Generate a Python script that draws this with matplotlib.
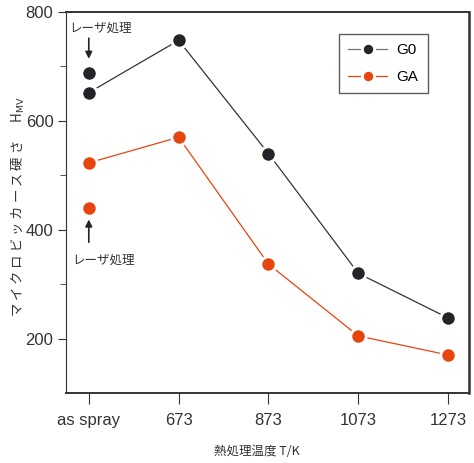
import matplotlib
matplotlib.use("Agg")
import matplotlib.pyplot as plt

plt.rcParams['font.family'] = ['Liberation Sans', 'Noto Sans CJK JP', 'DejaVu Sans']

# data
temps = ['as spray', '673', '873', '1073', '1273']
g0 = [652, 748, 540, 320, 238]
ga = [523, 570, 337, 205, 170]
g0_laser = 688
ga_laser = 440

black = '#222428'
orange = '#e8450e'
grey = '#333333'

fig = plt.figure(figsize=(4.74, 4.63), dpi=100)
ax = fig.add_axes([0.139, 0.151, 0.85, 0.823])

x = list(range(len(temps)))
mk = dict(marker='o', markersize=11, markeredgecolor='white', markeredgewidth=2)
ax.plot(x, g0, color=grey, lw=0.9, markerfacecolor=black, label='G0', **mk)
ax.plot(x, ga, color=orange, lw=0.9, markerfacecolor=orange, label='GA', **mk)
ax.plot(0, g0_laser, ls='none', markerfacecolor=black, **mk)
ax.plot(0, ga_laser, ls='none', markerfacecolor=orange, **mk)

# laser annotations
ax.annotate('', xy=(0, 709), xytext=(0, 757),
            arrowprops=dict(arrowstyle='-|>', color=black, lw=1.2, mutation_scale=10))
ax.text(0.13, 770, 'レーザ処理', ha='center', va='center', fontsize=9,
        family=['Noto Sans CJK JP'], color=grey)
ax.annotate('', xy=(0, 424), xytext=(0, 372),
            arrowprops=dict(arrowstyle='-|>', color=black, lw=1.2, mutation_scale=10))
ax.text(0.16, 344, 'レーザ処理', ha='center', va='center', fontsize=9,
        family=['Noto Sans CJK JP'], color=grey)

ax.set_xlim(-0.255, 4.23)
ax.set_ylim(100, 800)
ax.set_xticks(x)
ax.set_xticklabels(temps)
ax.set_yticks([200, 400, 600, 800])
ax.set_yticks([300, 500, 700], minor=True)
ax.tick_params(axis='both', which='major', labelsize=12, direction='out', color=grey,
               labelcolor=grey)
ax.tick_params(axis='x', length=8, pad=6)
ax.tick_params(axis='y', length=6, pad=3)
ax.tick_params(axis='y', which='minor', length=4, color=grey)
for s in ax.spines.values():
    s.set_color(grey)
ax.spines['right'].set_linewidth(1.8)
ax.spines['bottom'].set_linewidth(1.4)
ax.spines['top'].set_linewidth(1.4)

ax.set_xlabel('熱処理温度 T/K', fontsize=9, color=grey, family=['Noto Sans CJK JP'])
ax.xaxis.set_label_coords(0.474, -0.137)
ax.set_ylabel('マ イ ク ロ ビ ッ カ ー ス 硬 さ      H$_{\\mathrm{MV}}$', fontsize=9.6,
              color=grey, family=['Noto Sans CJK JP', 'DejaVu Sans'])
ax.yaxis.set_label_coords(-0.097, 0.49)

leg = ax.legend(loc='upper right', bbox_to_anchor=(0.898, 0.942), borderaxespad=0,
                fontsize=11, frameon=True, fancybox=False, handlelength=2.6,
                borderpad=0.6, labelspacing=0.85, handletextpad=0.6, markerscale=0.8)
leg.get_frame().set_edgecolor(grey)
leg.get_frame().set_linewidth(1.0)
leg.get_lines()[0].set_color('#777777')

fig.savefig('out.png', dpi=100)
